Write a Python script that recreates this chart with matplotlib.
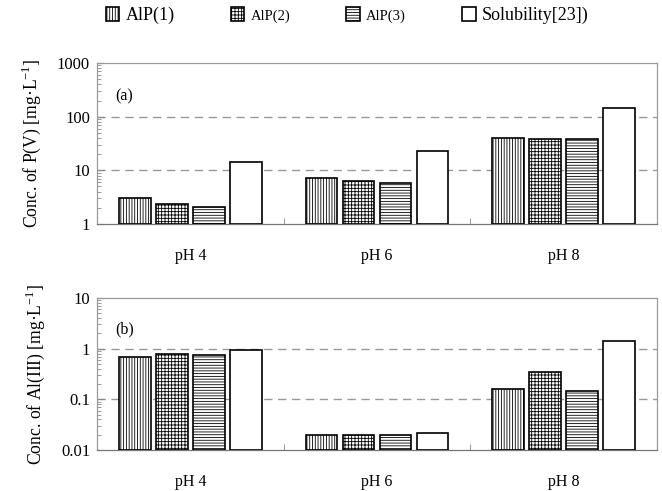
import matplotlib
matplotlib.use("Agg")
import matplotlib.pyplot as plt
import numpy as np

plt.rcParams['font.family'] = ['Liberation Serif', 'DejaVu Serif']
plt.rcParams['hatch.linewidth'] = 0.6
plt.rcParams['hatch.color'] = '#333333'

# groups and series
groups = ['pH 4', 'pH 6', 'pH 8']
series = ['AlP(1)', 'AlP(2)', 'AlP(3)', 'Solubility[23])']
hatches = ['||||||', '+++++', '------', '']

# P(V) concentrations, mg/L
p_alp1 = [3.1, 7.3, 40]
p_alp2 = [2.4, 6.4, 38]
p_alp3 = [2.05, 5.9, 39]
p_sol = [14, 23, 145]

# Al(III) concentrations, mg/L
al_alp1 = [0.7, 0.02, 0.16]
al_alp2 = [0.8, 0.02, 0.35]
al_alp3 = [0.75, 0.02, 0.145]
al_sol = [0.95, 0.022, 1.4]

fig = plt.figure(figsize=(6.62, 4.91), dpi=100)
ax1 = fig.add_axes([0.1465, 0.5438, 0.8459, 0.3279])
ax2 = fig.add_axes([0.1465, 0.0835, 0.8459, 0.3096])

x = np.arange(len(groups))
step = 0.198
width = 0.169


def draw(ax, data, ylim, label, tag, ref_lines):
    handles = []
    base = ylim[0]
    for i, vals in enumerate(data):
        b = ax.bar(x + (i - 1.5) * step, np.array(vals) - base, width, bottom=base,
                   color='white', edgecolor='black', linewidth=1.2,
                   hatch=hatches[i], zorder=3)
        handles.append(b)
    ax.set_yscale('log')
    ax.set_ylim(*ylim)
    ax.set_xlim(-0.5, 2.5)
    for r in ref_lines:
        ax.axhline(r, color='#999999', linestyle=(0, (6, 4)), linewidth=1, zorder=1)
    ax.set_xticks(x)
    ax.set_xticklabels(groups, fontsize=11.5)
    ax.tick_params(axis='x', which='major', length=0, pad=17)
    ax.set_xticks([0.5, 1.5], minor=True)
    ax.tick_params(axis='x', which='minor', direction='in', length=4, color='#888888')
    ax.tick_params(axis='y', which='both', direction='in', color='#888888', labelsize=12)
    ax.tick_params(axis='y', which='major', length=5, pad=5)
    ax.tick_params(axis='y', which='minor', length=3)
    ax.yaxis.set_major_formatter(matplotlib.ticker.FuncFormatter(lambda v, p: f'{v:g}'))
    for s in ax.spines.values():
        s.set_color('#999999')
        s.set_linewidth(0.9)
    ax.spines['bottom'].set_color('#777777')
    ax.set_ylabel(label, fontsize=12.7, labelpad=10)
    ax.text(0.033, 0.77, tag, transform=ax.transAxes, fontsize=11.5)
    return handles


handles = draw(ax1, [p_alp1, p_alp2, p_alp3, p_sol], (1, 1000),
               'Conc. of P(V) [mg·L$^{\\mathregular{-1}}$]', '(a)', [10, 100])
draw(ax2, [al_alp1, al_alp2, al_alp3, al_sol], (0.01, 10),
     'Conc. of Al(III) [mg·L$^{\\mathregular{-1}}$]', '(b)', [0.1, 1])

leg = fig.legend(handles, series, loc='center left', bbox_to_anchor=(0.16, 0.968),
                 ncol=4, frameon=False, handlelength=0.75, handleheight=0.75,
                 handletextpad=0.35, columnspacing=3.1, fontsize=13,
                 borderpad=0, borderaxespad=0)
for t, fs in zip(leg.get_texts(), [13, 10.5, 10.5, 13]):
    t.set_fontsize(fs)

fig.savefig('out.png', dpi=100)
